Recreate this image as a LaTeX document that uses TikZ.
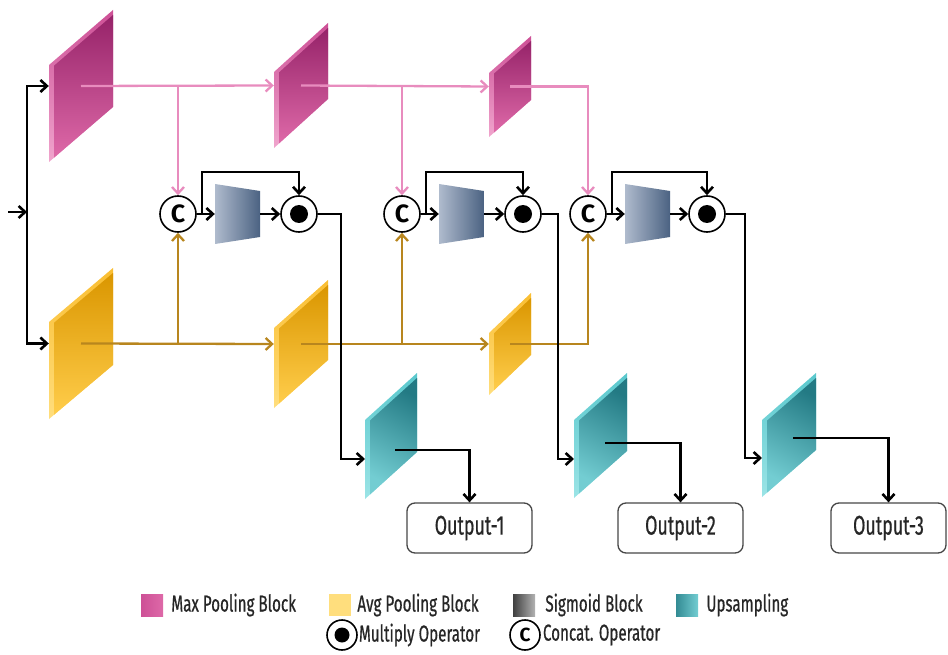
\documentclass[tikz,border=0pt]{standalone}
\usepackage{fontspec}
\setmainfont[FakeStretch=0.66, FakeBold=0.6]{Fira Sans}
\newfontfamily\opfont{Fira Sans}
\usetikzlibrary{arrows.meta, positioning}

\definecolor{mpline}{RGB}{232,140,190}
\definecolor{apline}{RGB}{184,134,30}
\definecolor{mpT}{RGB}{150,35,105}
\definecolor{mpB}{RGB}{222,105,168}
\definecolor{mpET}{RGB}{205,80,150}
\definecolor{mpEB}{RGB}{240,165,205}
\definecolor{apT}{RGB}{218,150,0}
\definecolor{apB}{RGB}{255,205,75}
\definecolor{apET}{RGB}{250,190,50}
\definecolor{apEB}{RGB}{255,222,125}
\definecolor{upT}{RGB}{35,122,132}
\definecolor{upB}{RGB}{115,205,210}
\definecolor{upET}{RGB}{90,200,205}
\definecolor{upEB}{RGB}{155,228,230}
\definecolor{sigL}{RGB}{175,187,205}
\definecolor{sigR}{RGB}{75,98,130}
\definecolor{boxline}{RGB}{70,70,70}

% slab: name, left x, left top y, width, height, rise, kind
\newcommand{\slab}[7]{%
  \shade[#7edge] (#2,#3) -- (#2+#4,#3-#6) -- (#2+#4,#3-#6+#5) -- (#2,#3+#5) -- cycle;
  \shade[#7face] (#2+5,#3+5-5*#6/#4) -- (#2+#4,#3-#6+5) -- (#2+#4,#3-#6+#5) -- (#2+5,#3+#5-5*#6/#4) -- cycle;
  \node[inner sep=0pt, minimum width=#4, minimum height=#5+#6] (#1) at (#2+#4/2,#3+#5/2-#6/2) {};
}
% sigmoid: name, left x, centre y
\newcommand{\sig}[3]{%
  \shade[sigface] (#2,#3-30) -- (#2+45,#3-23) -- (#2+45,#3+23) -- (#2,#3+30) -- cycle;
  \node[inner sep=0pt, minimum width=45, minimum height=60] (#1) at (#2+22.5,#3) {};
}

\begin{document}
\begin{tikzpicture}[
  x=1pt, y=-1pt,
  mpface/.style={top color=mpT, bottom color=mpB},
  mpedge/.style={top color=mpET, bottom color=mpEB},
  apface/.style={top color=apT, bottom color=apB},
  apedge/.style={top color=apET, bottom color=apEB},
  upface/.style={top color=upT, bottom color=upB, shading angle=-30},
  upedge/.style={top color=upET, bottom color=upEB},
  sigface/.style={left color=sigL, right color=sigR},
  blk/.style={draw=black, line width=2.6pt, -{Straight Barb[length=6.5pt, width=12pt]}},
  mpconn/.style={blk, draw=mpline, line width=2.3pt},
  apconn/.style={blk, draw=apline, line width=2.3pt},
  concat/.style={circle, draw, line width=1.6pt, fill=white, minimum size=36, inner sep=0pt, font=\opfont\bfseries\fontsize{25}{25}\selectfont},
  mult/.style={circle, draw, line width=1.6pt, fill=white, minimum size=36, inner sep=0pt,
    path picture={\fill[black] (path picture bounding box.center) circle (9pt);}},
  outbox/.style={draw=boxline, line width=1.3pt, rounded corners=8pt, minimum width=125, minimum height=50,
    text=black!85, font=\fontsize{27}{27}\selectfont},
  legsq/.style={minimum size=22, inner sep=0pt},
  legtext/.style={inner sep=0pt, text=black!85, font=\fontsize{23}{23}\selectfont},
]
\useasboundingbox (0,0) rectangle (948,655);

% --- pooling blocks ---
\slab{mp1}{49}{65}{64}{97}{55}{mp}
\slab{mp2}{274}{72}{54}{76}{49}{mp}
\slab{mp3}{489}{73}{42}{64}{37}{mp}
\slab{ap1}{49}{322}{64}{97}{54}{ap}
\slab{ap2}{274}{328}{54}{80}{48}{ap}
\slab{ap3}{489}{333}{42}{62}{40}{ap}

% --- upsampling blocks ---
\slab{up1}{365}{420}{52}{79}{47}{up}
\slab{up2}{574}{420}{53}{78}{47}{up}
\slab{up3}{762}{420}{54}{77}{47}{up}

% --- sigmoid blocks ---
\sig{s1}{215}{214}
\sig{s2}{439}{214}
\sig{s3}{625}{214}

% --- operators ---
\node[concat] (c1) at (178,214) {C};
\node[concat] (c2) at (402,214) {C};
\node[concat] (c3) at (588,214) {C};
\node[mult] (m1) at (299,214) {};
\node[mult] (m2) at (523,214) {};
\node[mult] (m3) at (707,214) {};

% --- outputs ---
\node[outbox] (out1) at (469.5,528) {Output-1};
\node[outbox] (out2) at (680.5,528) {Output-2};
\node[outbox, minimum width=115] (out3) at (888.5,528) {Output-3};

\coordinate (in) at (8,212);
\coordinate (split) at (27,212);
\coordinate (up1-in) at (365,459);
\coordinate (up2-in) at (574,459);
\coordinate (up3-in) at (762,458);
\coordinate (up1-out) at (395,450);
\coordinate (up2-out) at (605,443);
\coordinate (up3-out) at (793,438);

% input
\draw[blk] (in) -- (split);
\draw[blk] (split) |- (mp1.west);
\draw[blk] (split) |- (ap1.west);

% max pooling path
\draw[mpconn] (mp1.center) -- (mp2.west);
\draw[mpconn] (c1 |- mp1) -- (c1);
\draw[mpconn] (mp2.center) -- (mp3.west);
\draw[mpconn] (c2 |- mp2) -- (c2);
\draw[mpconn] (mp3.center) -| (c3);

% avg pooling path
\draw[apconn] (ap1.center) -- (ap2.west);
\draw[apconn] (c1 |- ap1) -- (c1);
\draw[apconn] (ap2.center) -- (ap3.west);
\draw[apconn] (c2 |- ap2) -- (c2);
\draw[apconn] (ap3.center) -| (c3);

% attention units
\foreach \i in {1,2,3} {
  \draw[blk] (c\i) -- (s\i.west);
  \draw[blk] (s\i.east) -- (m\i);
  \draw[blk] (c\i.east) -- ++(5,0) -- ++(0,-42) -| (m\i.north);
}

% to upsampling and outputs
\draw[blk] (m1.east) -- ++(23,0) |- (up1-in);
\draw[blk] (m2.east) -- ++(16,0) |- (up2-in);
\draw[blk] (m3.east) -- ++(19,0) |- (up3-in);
\draw[blk] (up1-out) -| (out1.north);
\draw[blk] (up2-out) -| (out2.north);
\draw[blk] (up3-out) -| (out3.north);

% Legend
\node[legsq, left color=mpET, right color=mpB] (lg-mp) at (152,605) {};
\node[legtext, right=8pt of lg-mp] (lt-mp) {Max Pooling Block};
\node[legsq, fill=apEB] (lg-ap) at (340,605) {};
\node[legtext, right=6pt of lg-ap] (lt-ap) {Avg Pooling Block};
\node[legsq, left color=black!75, right color=black!30] (lg-sig) at (524,605) {};
\node[legtext, right=10pt of lg-sig] (lt-sig) {Sigmoid Block};
\node[legsq, left color=upT!80!upB, right color=upB] (lg-up) at (687,605) {};
\node[legtext, right=8pt of lg-up] (lt-up) {Upsampling};
\node[mult, minimum size=30, path picture={\fill[black] (path picture bounding box.center) circle (7.5pt);}] (lg-m) at (342,635) {};
\node[legtext, right=1pt of lg-m] (lt-m) {Multiply Operator};
\node[concat, minimum size=30, font=\opfont\bfseries\fontsize{19}{19}\selectfont] (lg-c) at (525,635) {C};
\node[legtext, right=2pt of lg-c] (lt-c) {Concat. Operator};

\end{tikzpicture}
\end{document}
